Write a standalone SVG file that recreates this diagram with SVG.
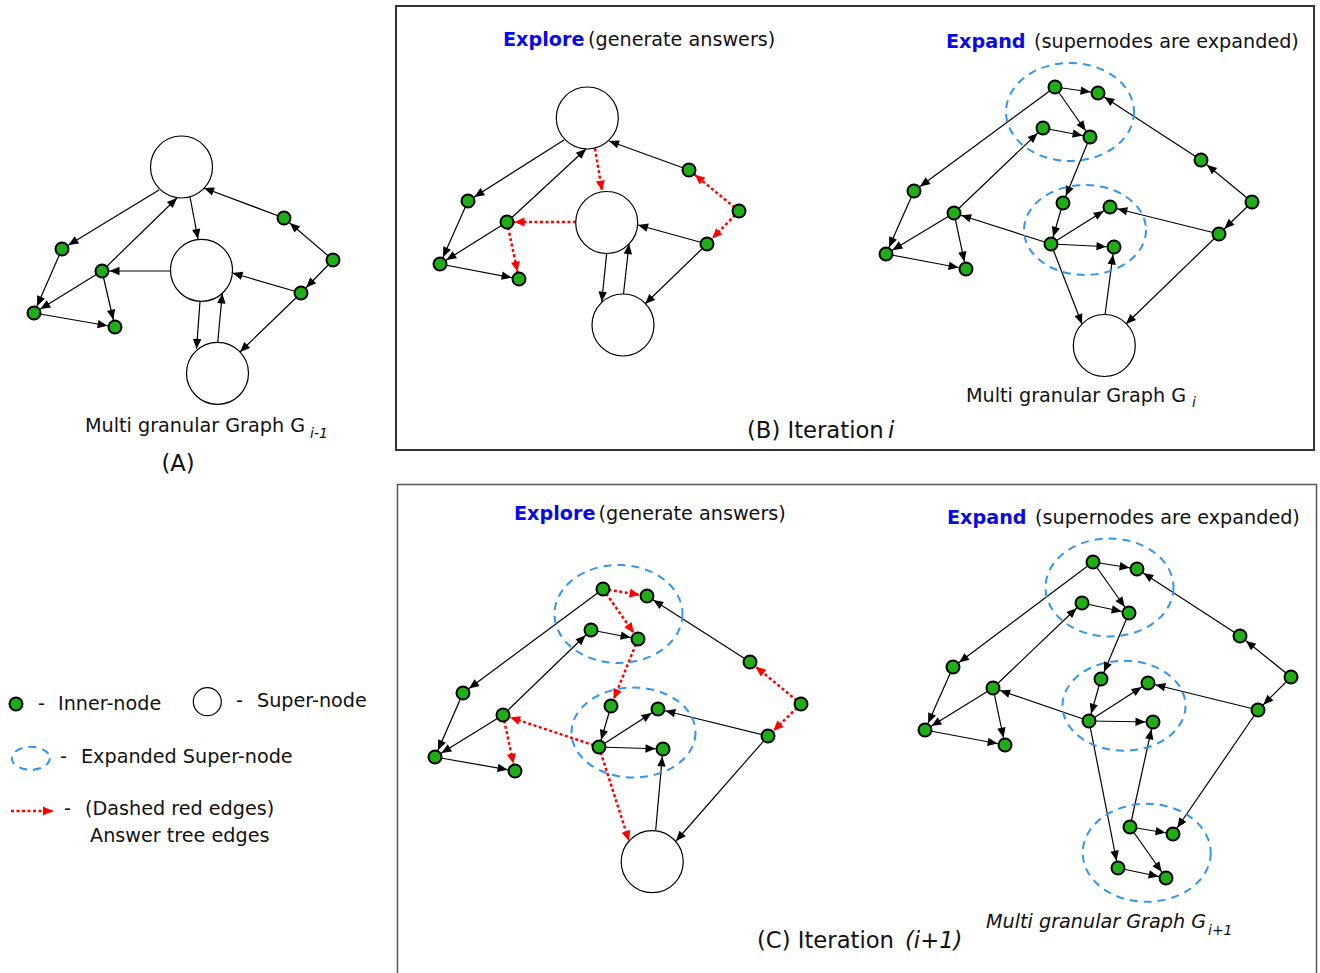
<svg xmlns="http://www.w3.org/2000/svg" width="1320" height="973" viewBox="0 0 1320 973">
<style>
text{font-family:"DejaVu Sans","Liberation Sans",sans-serif;font-size:19.2px;fill:#111}
.t{font-size:22.7px}
.h{font-weight:bold;fill:#0a0ae8}
.e{stroke:#000;stroke-width:1.2;fill:none}
.r{stroke:#f00;stroke-width:2.5;stroke-dasharray:3 2.5;fill:none}
.in{fill:#20ad18;stroke:#000;stroke-width:2}
.sn{fill:#fff;stroke:#000;stroke-width:1.2}
.xs{fill:none;stroke:#2f96f0;stroke-width:2;stroke-dasharray:8 6}
.box{fill:none}
</style>
<defs>
<marker id="a" markerUnits="userSpaceOnUse" markerWidth="12" markerHeight="10" refX="10" refY="0" orient="auto" overflow="visible"><path d="M0,-4.2 L10,0 L0,4.2 z" fill="#000"/></marker>
<marker id="ai" markerUnits="userSpaceOnUse" markerWidth="12" markerHeight="10" refX="17.5" refY="0" orient="auto" overflow="visible"><path d="M0,-4.2 L10,0 L0,4.2 z" fill="#000"/></marker>
<marker id="ra" markerUnits="userSpaceOnUse" markerWidth="12" markerHeight="10" refX="10" refY="0" orient="auto" overflow="visible"><path d="M0,-4.5 L10,0 L0,4.5 z" fill="#f00"/></marker>
<marker id="rai" markerUnits="userSpaceOnUse" markerWidth="12" markerHeight="10" refX="17.5" refY="0" orient="auto" overflow="visible"><path d="M0,-4.5 L10,0 L0,4.5 z" fill="#f00"/></marker>
</defs>

<g id="panelB"><rect class="box" x="396" y="6" width="918" height="444" stroke="#333" stroke-width="2"/></g>
<g id="panelC"><rect class="box" x="397.5" y="484.5" width="919" height="500" stroke="#555" stroke-width="1.5"/></g>

<g id="connectors">
<!-- Panel A -->
<line class="e" x1="159" y1="190" x2="62" y2="249" marker-end="url(#ai)"/>
<line class="e" x1="102" y1="271" x2="177" y2="198" marker-end="url(#a)"/>
<line class="e" x1="190" y1="197" x2="198" y2="239" marker-end="url(#a)"/>
<line class="e" x1="170" y1="271" x2="102" y2="271" marker-end="url(#ai)"/>
<line class="e" x1="62" y1="249" x2="34" y2="313" marker-end="url(#ai)"/>
<line class="e" x1="102" y1="271" x2="34" y2="313" marker-end="url(#ai)"/>
<line class="e" x1="102" y1="271" x2="115" y2="327" marker-end="url(#ai)"/>
<line class="e" x1="34" y1="313" x2="115" y2="327" marker-end="url(#ai)"/>
<line class="e" x1="284" y1="218" x2="204" y2="188" marker-end="url(#a)"/>
<line class="e" x1="333" y1="260" x2="284" y2="218" marker-end="url(#ai)"/>
<line class="e" x1="333" y1="260" x2="301" y2="293" marker-end="url(#ai)"/>
<line class="e" x1="301" y1="293" x2="232.5" y2="273" marker-end="url(#a)"/>
<line class="e" x1="301" y1="293" x2="240" y2="352" marker-end="url(#a)"/>
<line class="e" x1="200" y1="301.5" x2="196.5" y2="349" marker-end="url(#a)"/>
<line class="e" x1="217.7" y1="342.5" x2="222.3" y2="293.5" marker-end="url(#a)"/>
<!-- Panel B explore -->
<line class="e" x1="564" y1="140" x2="468" y2="201" marker-end="url(#ai)"/>
<line class="e" x1="507" y1="222" x2="586" y2="149" marker-end="url(#a)"/>
<line class="r" x1="595" y1="148.5" x2="602" y2="190.5" marker-end="url(#ra)"/>
<line class="r" x1="576" y1="222" x2="507" y2="222" marker-end="url(#rai)"/>
<line class="r" x1="507" y1="222" x2="519" y2="279" marker-end="url(#rai)"/>
<line class="e" x1="468" y1="201" x2="440" y2="264" marker-end="url(#ai)"/>
<line class="e" x1="507" y1="222" x2="440" y2="264" marker-end="url(#ai)"/>
<line class="e" x1="440" y1="264" x2="519" y2="279" marker-end="url(#ai)"/>
<line class="e" x1="689" y1="170" x2="609" y2="141" marker-end="url(#a)"/>
<line class="r" x1="739" y1="211" x2="689" y2="170" marker-end="url(#rai)"/>
<line class="r" x1="739" y1="211" x2="707" y2="244" marker-end="url(#rai)"/>
<line class="e" x1="707" y1="244" x2="638" y2="225" marker-end="url(#a)"/>
<line class="e" x1="707" y1="244" x2="645" y2="304" marker-end="url(#a)"/>
<line class="e" x1="606.7" y1="253.3" x2="601.7" y2="301.7" marker-end="url(#a)"/>
<line class="e" x1="623.3" y1="295.7" x2="629" y2="244" marker-end="url(#a)"/>
<!-- Panel B expand -->
<line class="e" x1="1055" y1="87" x2="1098" y2="93" marker-end="url(#ai)"/>
<line class="e" x1="1055" y1="87" x2="1090" y2="137" marker-end="url(#ai)"/>
<line class="e" x1="1043" y1="128" x2="1090" y2="137" marker-end="url(#ai)"/>
<line class="e" x1="1055" y1="87" x2="914" y2="191" marker-end="url(#ai)"/>
<line class="e" x1="954" y1="213" x2="1043" y2="128" marker-end="url(#ai)"/>
<line class="e" x1="1090" y1="137" x2="1063" y2="203" marker-end="url(#ai)"/>
<line class="e" x1="1063" y1="203" x2="1051" y2="244" marker-end="url(#ai)"/>
<line class="e" x1="1051" y1="244" x2="1110" y2="207" marker-end="url(#ai)"/>
<line class="e" x1="1051" y1="244" x2="1114" y2="247" marker-end="url(#ai)"/>
<line class="e" x1="1051" y1="244" x2="954" y2="213" marker-end="url(#ai)"/>
<line class="e" x1="914" y1="191" x2="886" y2="254" marker-end="url(#ai)"/>
<line class="e" x1="954" y1="213" x2="886" y2="254" marker-end="url(#ai)"/>
<line class="e" x1="954" y1="213" x2="966" y2="269" marker-end="url(#ai)"/>
<line class="e" x1="886" y1="254" x2="966" y2="269" marker-end="url(#ai)"/>
<line class="e" x1="1201" y1="160" x2="1098" y2="93" marker-end="url(#ai)"/>
<line class="e" x1="1252" y1="202" x2="1201" y2="160" marker-end="url(#ai)"/>
<line class="e" x1="1252" y1="202" x2="1219" y2="234" marker-end="url(#ai)"/>
<line class="e" x1="1219" y1="234" x2="1110" y2="207" marker-end="url(#ai)"/>
<line class="e" x1="1051" y1="244" x2="1082" y2="324" marker-end="url(#a)"/>
<line class="e" x1="1105" y1="315" x2="1114" y2="247" marker-end="url(#ai)"/>
<line class="e" x1="1219" y1="234" x2="1126" y2="324" marker-end="url(#a)"/>
<!-- Panel C explore -->
<line class="r" x1="603" y1="589" x2="647" y2="596" marker-end="url(#rai)"/>
<line class="r" x1="603" y1="589" x2="638" y2="639" marker-end="url(#rai)"/>
<line class="r" x1="638" y1="639" x2="611" y2="706" marker-end="url(#rai)"/>
<line class="r" x1="599" y1="747" x2="503" y2="715" marker-end="url(#rai)"/>
<line class="r" x1="503" y1="715" x2="515" y2="771" marker-end="url(#rai)"/>
<line class="r" x1="801" y1="704" x2="750" y2="662" marker-end="url(#rai)"/>
<line class="r" x1="801" y1="704" x2="768" y2="736" marker-end="url(#rai)"/>
<line class="r" x1="599" y1="747" x2="629" y2="841" marker-end="url(#ra)"/>
<line class="e" x1="603" y1="589" x2="463" y2="693" marker-end="url(#ai)"/>
<line class="e" x1="591" y1="630" x2="638" y2="639" marker-end="url(#ai)"/>
<line class="e" x1="503" y1="715" x2="591" y2="630" marker-end="url(#ai)"/>
<line class="e" x1="611" y1="706" x2="599" y2="747" marker-end="url(#ai)"/>
<line class="e" x1="599" y1="747" x2="658" y2="709" marker-end="url(#ai)"/>
<line class="e" x1="599" y1="747" x2="663" y2="749" marker-end="url(#ai)"/>
<line class="e" x1="463" y1="693" x2="435" y2="757" marker-end="url(#ai)"/>
<line class="e" x1="503" y1="715" x2="435" y2="757" marker-end="url(#ai)"/>
<line class="e" x1="435" y1="757" x2="515" y2="771" marker-end="url(#ai)"/>
<line class="e" x1="750" y1="662" x2="647" y2="596" marker-end="url(#ai)"/>
<line class="e" x1="768" y1="736" x2="658" y2="709" marker-end="url(#ai)"/>
<line class="e" x1="655.7" y1="830" x2="663" y2="749" marker-end="url(#ai)"/>
<line class="e" x1="768" y1="736" x2="676" y2="841" marker-end="url(#a)"/>
<!-- Panel C expand -->
<line class="e" x1="1093" y1="562" x2="1137" y2="569" marker-end="url(#ai)"/>
<line class="e" x1="1093" y1="562" x2="1129" y2="613" marker-end="url(#ai)"/>
<line class="e" x1="1082" y1="603" x2="1129" y2="613" marker-end="url(#ai)"/>
<line class="e" x1="1093" y1="562" x2="953" y2="667" marker-end="url(#ai)"/>
<line class="e" x1="993" y1="688" x2="1082" y2="603" marker-end="url(#ai)"/>
<line class="e" x1="1129" y1="613" x2="1101" y2="679" marker-end="url(#ai)"/>
<line class="e" x1="1101" y1="679" x2="1089" y2="721" marker-end="url(#ai)"/>
<line class="e" x1="1089" y1="721" x2="1148" y2="683" marker-end="url(#ai)"/>
<line class="e" x1="1089" y1="721" x2="1153" y2="722" marker-end="url(#ai)"/>
<line class="e" x1="1089" y1="721" x2="993" y2="688" marker-end="url(#ai)"/>
<line class="e" x1="1089" y1="721" x2="1118" y2="868" marker-end="url(#ai)"/>
<line class="e" x1="1130" y1="827" x2="1153" y2="722" marker-end="url(#ai)"/>
<line class="e" x1="1130" y1="827" x2="1173" y2="834" marker-end="url(#ai)"/>
<line class="e" x1="1130" y1="827" x2="1166" y2="878" marker-end="url(#ai)"/>
<line class="e" x1="1118" y1="868" x2="1166" y2="878" marker-end="url(#ai)"/>
<line class="e" x1="953" y1="667" x2="925" y2="730" marker-end="url(#ai)"/>
<line class="e" x1="993" y1="688" x2="925" y2="730" marker-end="url(#ai)"/>
<line class="e" x1="993" y1="688" x2="1005" y2="745" marker-end="url(#ai)"/>
<line class="e" x1="925" y1="730" x2="1005" y2="745" marker-end="url(#ai)"/>
<line class="e" x1="1240" y1="636" x2="1137" y2="569" marker-end="url(#ai)"/>
<line class="e" x1="1291" y1="677" x2="1240" y2="636" marker-end="url(#ai)"/>
<line class="e" x1="1291" y1="677" x2="1258" y2="710" marker-end="url(#ai)"/>
<line class="e" x1="1258" y1="710" x2="1148" y2="683" marker-end="url(#ai)"/>
<line class="e" x1="1258" y1="710" x2="1173" y2="834" marker-end="url(#ai)"/>
</g>

<g id="expanded">
<ellipse id="B_x1" class="xs" cx="1070" cy="112" rx="64" ry="49"/>
<ellipse id="B_x2" class="xs" cx="1085" cy="230" rx="61" ry="45"/>
<ellipse id="C_x1" class="xs" cx="618.5" cy="614" rx="64" ry="49"/>
<ellipse id="C_x2" class="xs" cx="633.5" cy="732.5" rx="62" ry="45"/>
<ellipse id="C_x3" class="xs" cx="1109.5" cy="587.5" rx="64" ry="49"/>
<ellipse id="C_x4" class="xs" cx="1124" cy="705.7" rx="61.5" ry="45"/>
<ellipse id="C_x5" class="xs" cx="1146.7" cy="852.8" rx="64" ry="49"/>
</g>

<g id="nodesA">
<g id="A_s1"><circle class="sn" cx="181.5" cy="167" r="31"/></g>
<g id="A_s2"><circle class="sn" cx="201.5" cy="270.3" r="31"/></g>
<g id="A_s3"><circle class="sn" cx="217.5" cy="373.3" r="31"/></g>
<g id="A_n1"><circle class="in" cx="62" cy="249" r="6.5"/></g>
<g id="A_n2"><circle class="in" cx="102" cy="271" r="6.5"/></g>
<g id="A_n3"><circle class="in" cx="34" cy="313" r="6.5"/></g>
<g id="A_n4"><circle class="in" cx="115" cy="327" r="6.5"/></g>
<g id="A_n5"><circle class="in" cx="284" cy="218" r="6.5"/></g>
<g id="A_n6"><circle class="in" cx="333" cy="260" r="6.5"/></g>
<g id="A_n7"><circle class="in" cx="301" cy="293" r="6.5"/></g>
</g>

<g id="nodesBexplore">
<g id="B_s1"><circle class="sn" cx="587.3" cy="118" r="31"/></g>
<g id="B_s2"><circle class="sn" cx="606.7" cy="222.5" r="31"/></g>
<g id="B_s3"><circle class="sn" cx="623" cy="325" r="31"/></g>
<g id="B_a"><circle class="in" cx="468" cy="201" r="6.5"/></g>
<g id="B_b"><circle class="in" cx="507" cy="222" r="6.5"/></g>
<g id="B_c"><circle class="in" cx="440" cy="264" r="6.5"/></g>
<g id="B_d"><circle class="in" cx="519" cy="279" r="6.5"/></g>
<g id="B_e"><circle class="in" cx="689" cy="170" r="6.5"/></g>
<g id="B_f"><circle class="in" cx="739" cy="211" r="6.5"/></g>
<g id="B_g"><circle class="in" cx="707" cy="244" r="6.5"/></g>
</g>

<g id="nodesBexpand">
<g id="B_s4"><circle class="sn" cx="1104.3" cy="345.5" r="31"/></g>
<g id="B_p1"><circle class="in" cx="1055" cy="87" r="6.5"/></g>
<g id="B_p2"><circle class="in" cx="1098" cy="93" r="6.5"/></g>
<g id="B_p3"><circle class="in" cx="1043" cy="128" r="6.5"/></g>
<g id="B_p4"><circle class="in" cx="1090" cy="137" r="6.5"/></g>
<g id="B_p5"><circle class="in" cx="914" cy="191" r="6.5"/></g>
<g id="B_p6"><circle class="in" cx="954" cy="213" r="6.5"/></g>
<g id="B_p7"><circle class="in" cx="886" cy="254" r="6.5"/></g>
<g id="B_p8"><circle class="in" cx="966" cy="269" r="6.5"/></g>
<g id="B_p9"><circle class="in" cx="1063" cy="203" r="6.5"/></g>
<g id="B_p10"><circle class="in" cx="1110" cy="207" r="6.5"/></g>
<g id="B_p11"><circle class="in" cx="1051" cy="244" r="6.5"/></g>
<g id="B_p12"><circle class="in" cx="1114" cy="247" r="6.5"/></g>
<g id="B_p13"><circle class="in" cx="1201" cy="160" r="6.5"/></g>
<g id="B_p14"><circle class="in" cx="1252" cy="202" r="6.5"/></g>
<g id="B_p15"><circle class="in" cx="1219" cy="234" r="6.5"/></g>
</g>

<g id="nodesCexplore">
<g id="C_s1"><circle class="sn" cx="652.2" cy="861.7" r="31"/></g>
<g id="C_q1"><circle class="in" cx="603" cy="589" r="6.5"/></g>
<g id="C_q2"><circle class="in" cx="647" cy="596" r="6.5"/></g>
<g id="C_q3"><circle class="in" cx="591" cy="630" r="6.5"/></g>
<g id="C_q4"><circle class="in" cx="638" cy="639" r="6.5"/></g>
<g id="C_q5"><circle class="in" cx="463" cy="693" r="6.5"/></g>
<g id="C_q6"><circle class="in" cx="503" cy="715" r="6.5"/></g>
<g id="C_q7"><circle class="in" cx="435" cy="757" r="6.5"/></g>
<g id="C_q8"><circle class="in" cx="515" cy="771" r="6.5"/></g>
<g id="C_q9"><circle class="in" cx="611" cy="706" r="6.5"/></g>
<g id="C_q10"><circle class="in" cx="658" cy="709" r="6.5"/></g>
<g id="C_q11"><circle class="in" cx="599" cy="747" r="6.5"/></g>
<g id="C_q12"><circle class="in" cx="663" cy="749" r="6.5"/></g>
<g id="C_q13"><circle class="in" cx="750" cy="662" r="6.5"/></g>
<g id="C_q14"><circle class="in" cx="801" cy="704" r="6.5"/></g>
<g id="C_q15"><circle class="in" cx="768" cy="736" r="6.5"/></g>
</g>

<g id="nodesCexpand">
<g id="C_r1"><circle class="in" cx="1093" cy="562" r="6.5"/></g>
<g id="C_r2"><circle class="in" cx="1137" cy="569" r="6.5"/></g>
<g id="C_r3"><circle class="in" cx="1082" cy="603" r="6.5"/></g>
<g id="C_r4"><circle class="in" cx="1129" cy="613" r="6.5"/></g>
<g id="C_r5"><circle class="in" cx="953" cy="667" r="6.5"/></g>
<g id="C_r6"><circle class="in" cx="993" cy="688" r="6.5"/></g>
<g id="C_r7"><circle class="in" cx="925" cy="730" r="6.5"/></g>
<g id="C_r8"><circle class="in" cx="1005" cy="745" r="6.5"/></g>
<g id="C_r9"><circle class="in" cx="1101" cy="679" r="6.5"/></g>
<g id="C_r10"><circle class="in" cx="1148" cy="683" r="6.5"/></g>
<g id="C_r11"><circle class="in" cx="1089" cy="721" r="6.5"/></g>
<g id="C_r12"><circle class="in" cx="1153" cy="722" r="6.5"/></g>
<g id="C_r13"><circle class="in" cx="1240" cy="636" r="6.5"/></g>
<g id="C_r14"><circle class="in" cx="1291" cy="677" r="6.5"/></g>
<g id="C_r15"><circle class="in" cx="1258" cy="710" r="6.5"/></g>
<g id="C_r16"><circle class="in" cx="1130" cy="827" r="6.5"/></g>
<g id="C_r17"><circle class="in" cx="1173" cy="834" r="6.5"/></g>
<g id="C_r18"><circle class="in" cx="1118" cy="868" r="6.5"/></g>
<g id="C_r19"><circle class="in" cx="1166" cy="878" r="6.5"/></g>
</g>

<g id="labels">
<text x="85" y="432">Multi granular Graph G<tspan x="310" y="438" font-size="14" font-style="italic">i-1</tspan></text>
<text class="t" x="161.5" y="471">(A)</text>
<text x="503" y="46"><tspan class="h">Explore</tspan><tspan x="588">(generate answers)</tspan></text>
<text x="946" y="48"><tspan class="h">Expand</tspan><tspan x="1034">(supernodes are expanded)</tspan></text>
<text x="966" y="402">Multi granular Graph G<tspan x="1192" y="407" font-size="14" font-style="italic">i</tspan></text>
<text class="t" x="747" y="438">(B) Iteration<tspan x="888" font-style="italic">i</tspan></text>
<text x="514" y="520"><tspan class="h">Explore</tspan><tspan x="598.5">(generate answers)</tspan></text>
<text x="947" y="524"><tspan class="h">Expand</tspan><tspan x="1035">(supernodes are expanded)</tspan></text>
<text x="986" y="928" font-style="italic">Multi granular Graph G<tspan x="1208" y="935" font-size="14">i+1</tspan></text>
<text class="t" x="757" y="948">(C) Iteration<tspan x="905" font-style="italic">(i+1)</tspan></text>
</g>

<g id="legend">
<g id="L_inner"><circle class="in" cx="16" cy="704" r="6.5"/><text x="38" y="710">-</text><text x="58" y="710">Inner-node</text></g>
<g id="L_super"><circle class="sn" cx="207.3" cy="701.7" r="14"/><text x="236" y="707">-</text><text x="257" y="707">Super-node</text></g>
<g id="L_exp"><ellipse class="xs" cx="30.8" cy="758.3" rx="19" ry="11.5" stroke-dasharray="5 4"/><text x="60" y="763">-</text><text x="81" y="763">Expanded Super-node</text></g>
<g id="L_ans"><line class="r" x1="11" y1="811" x2="53" y2="811" marker-end="url(#ra)"/><text x="64" y="815">-</text><text x="85" y="815">(Dashed red edges)</text><text x="90" y="842">Answer tree edges</text></g>
</g>
</svg>
